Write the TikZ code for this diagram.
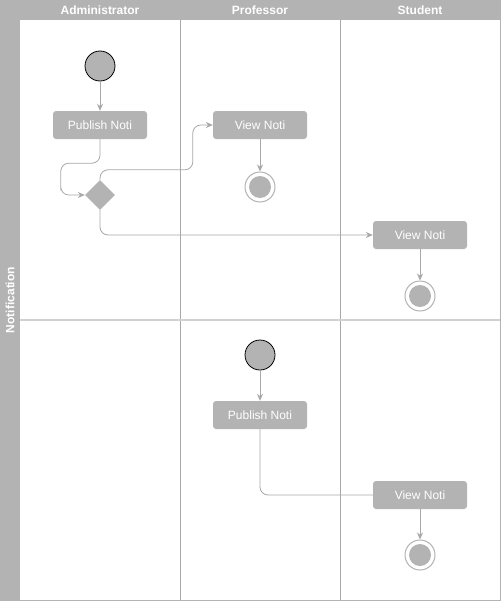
\documentclass[tikz,border=0pt]{standalone}
\usepackage{fontspec}
\setmainfont{Liberation Sans}
\usetikzlibrary{arrows.meta,shapes.geometric}
\definecolor{lanegray}{HTML}{B3B3B3}
\definecolor{linegray}{HTML}{A8A8A8}

\begin{document}
\begin{tikzpicture}[x=1pt,y=-1pt,>={Stealth[length=7pt,width=6pt]},
  head/.style={text=white,font=\fontsize{12}{14}\selectfont\bfseries},
  act/.style={rectangle,rounded corners=3pt,fill=lanegray,text=white,minimum width=94pt,minimum height=28pt,inner sep=0pt,font=\fontsize{12}{14}\selectfont},
  startnode/.style={circle,fill=lanegray,draw=black,line width=0.8pt,minimum size=30pt,inner sep=0pt},
  endnode/.style={circle,fill=white,draw=lanegray,line width=1pt,minimum size=30pt,inner sep=0pt,
    path picture={\fill[lanegray] (path picture bounding box.center) circle (11pt);}},
  decision/.style={diamond,fill=lanegray,minimum size=30pt,inner sep=0pt},
  flow/.style={linegray,line width=0.8pt,rounded corners=8pt}]
\useasboundingbox (0,0) rectangle (502,602);
% pool and lanes
\fill[lanegray] (0,0) rectangle (500,20);
\fill[lanegray] (0,0) rectangle (20,600);
\draw[lanegray,line width=1pt] (0,0) rectangle (500,600);
\draw[linegray,line width=0.8pt] (180,20) -- (180,600);
\draw[linegray,line width=0.8pt] (340,20) -- (340,600);
\draw[lanegray!60,line width=1.5pt] (20,320) -- (500,320);
\node[head] (hAdmin) at (100,10) {Administrator};
\node[head] (hProf) at (260,10) {Professor};
\node[head] (hStud) at (420,10) {Student};
\node[head,rotate=90] (hNoti) at (10,300) {Notification};
% first row
\node[startnode] (startA) at (100,66) {};
\node[act] (pubA) at (100,125) {Publish Noti};
\node[decision] (dec) at (100,195) {};
\node[act] (viewP) at (260,125) {View Noti};
\node[endnode] (endP) at (260,187) {};
\node[act] (viewS) at (420,235) {View Noti};
\node[endnode] (endS) at (420,296) {};
\draw[flow,->] (startA) -- (pubA);
\draw[flow,->] (pubA.south) -- ++(0,24) -| ([xshift=-24pt]dec.west) |- (dec.west);
\draw[flow,->] (dec.north) -- ++(0,-10) -| ([xshift=-20pt]viewP.west) -- (viewP.west);
\draw[flow,->] (dec.south) |- (viewS.west);
\draw[flow,->] (viewP) -- (endP);
\draw[flow,->] (viewS) -- (endS);
% second row
\node[startnode] (startP) at (260,355) {};
\node[act] (pubP) at (260,415) {Publish Noti};
\node[act] (viewS2) at (420,495) {View Noti};
\node[endnode] (endS2) at (420,555) {};
\draw[flow,->] (startP) -- (pubP);
\draw[flow] (pubP.south) |- (viewS2.west);
\draw[flow,->] (viewS2) -- (endS2);
\end{tikzpicture}
\end{document}
